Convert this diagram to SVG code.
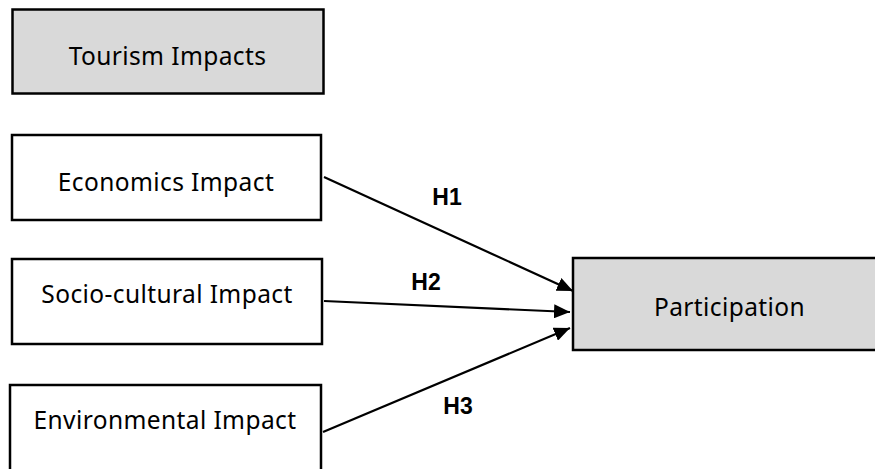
<svg xmlns="http://www.w3.org/2000/svg" width="875" height="469" viewBox="0 0 875 469">
<style>
.box{stroke:#000;stroke-width:2.5}
.grey{fill:#d9d9d9}
.white{fill:#fff}
.lbl{font-family:"Noto Sans","DejaVu Sans",sans-serif;font-size:24.5px;letter-spacing:0.4px;fill:#000;text-anchor:middle}
.h{font-family:"Liberation Sans",Arial,sans-serif;font-weight:bold;font-size:23px;fill:#000;text-anchor:middle}
.edge{stroke:#000;stroke-width:2.2;fill:none;marker-end:url(#arr)}
</style>
<defs>
<marker id="arr" markerUnits="userSpaceOnUse" markerWidth="18" markerHeight="14" refX="16" refY="7" orient="auto">
<path d="M0,0 L16,7 L0,14 Z" fill="#000"/>
</marker>
</defs>
<rect width="875" height="469" fill="#fff"/>
<g id="tourism">
<rect class="box grey" x="12.5" y="9.5" width="311" height="84"/>
<text class="lbl" x="167.5" y="65">Tourism Impacts</text>
</g>
<g id="economics">
<rect class="box white" x="12" y="135" width="309" height="85"/>
<text class="lbl" x="166" y="191">Economics Impact</text>
</g>
<g id="socio">
<rect class="box white" x="12" y="259" width="310" height="85"/>
<text class="lbl" x="167" y="303">Socio-cultural Impact</text>
</g>
<g id="environmental">
<rect class="box white" x="10" y="385" width="311" height="100"/>
<text class="lbl" x="165" y="429">Environmental Impact</text>
</g>
<g id="participation">
<rect class="box grey" x="573" y="258" width="310" height="92"/>
<text class="lbl" x="729.5" y="316">Participation</text>
</g>
<g id="connectors">
<line class="edge" x1="324" y1="177" x2="573" y2="291"/>
<line class="edge" x1="324" y1="301" x2="570" y2="312"/>
<line class="edge" x1="323" y1="432" x2="570" y2="328"/>
<text class="h" x="447" y="205">H1</text>
<text class="h" x="426" y="290">H2</text>
<text class="h" x="458" y="414">H3</text>
</g>
</svg>
